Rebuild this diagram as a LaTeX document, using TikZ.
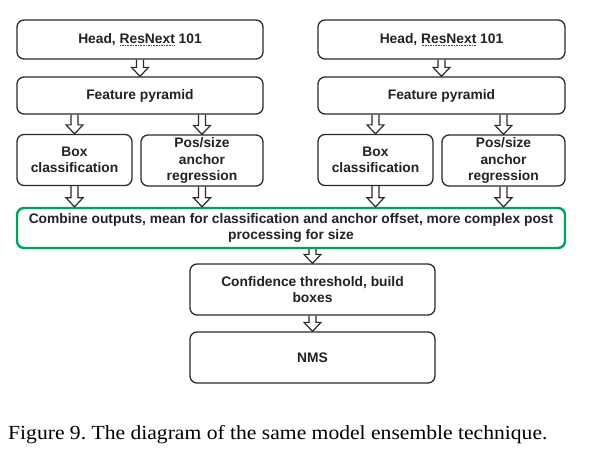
\documentclass[tikz,border=0pt]{standalone}
\usepackage{fontspec}
\setmainfont{Liberation Serif}
\newfontfamily\boxfont{Liberation Sans}
\usetikzlibrary{calc}
\definecolor{boxline}{HTML}{2B2B2B}
\definecolor{boxtext}{HTML}{222222}
\definecolor{combgreen}{HTML}{00A35C}
\newcommand\squigword[1]{\setbox0\hbox{#1}\rlap{\raisebox{-2.6pt}{\color{red!85!black}\hbox to \wd0{\xleaders\hbox to 1.6pt{\hss\vrule width 0.8pt height 0.8pt\hss}\hfill}}}\box0}
\tikzset{
  stagebox/.style={draw=boxline, line width=1.3pt, rounded corners=7pt, fill=white,
    inner sep=0pt, align=center, text=boxtext,
    font=\boxfont\bfseries\fontsize{13.8}{16.5}\selectfont},
  combbox/.style={stagebox, draw=combgreen, line width=2.4pt},
  arrowline/.style={draw=boxline, line width=1.2pt, line join=miter},
}
\newcommand\blockarrow[2]{%
  \draw[arrowline] let \p1=(#1), \p2=(#2) in
    (\x1-3.5pt,\y1) -- (\x1-3.5pt,\y2+9pt) -- (\x1-8.5pt,\y2+9pt) -- (\x1,\y2)
    -- (\x1+8.5pt,\y2+9pt) -- (\x1+3.5pt,\y2+9pt) -- (\x1+3.5pt,\y1);}
\begin{document}
\begin{tikzpicture}[x=1pt,y=-1pt]
\useasboundingbox[fill=white] (0,0) rectangle (597,458);
% left column
\node[stagebox, minimum width=246pt, minimum height=39pt] (headL) at (140,39.5) {Head, \squigword{ResNext}\ 101};
\node[stagebox, minimum width=246pt, minimum height=37pt] (fpL) at (140,95.5) {Feature pyramid};
\node[stagebox, minimum width=115pt, minimum height=51pt] (bcL) at (74.5,160) {Box\\classification};
\node[stagebox, minimum width=122pt, minimum height=51pt] (psL) at (202,160.5) {Pos/size\\anchor\\regression};
% right column
\node[stagebox, minimum width=247pt, minimum height=39pt] (headR) at (441.5,39.5) {Head, \squigword{ResNext}\ 101};
\node[stagebox, minimum width=247pt, minimum height=37pt] (fpR) at (441.5,95.5) {Feature pyramid};
\node[stagebox, minimum width=115pt, minimum height=51pt] (bcR) at (375.5,160) {Box\\classification};
\node[stagebox, minimum width=123pt, minimum height=51pt] (psR) at (503.5,160.5) {Pos/size\\anchor\\regression};
% combine
\node[combbox, minimum width=548pt, minimum height=40pt] (comb) at (291,228) {Combine outputs, mean for classification and anchor offset, more complex post\\processing for size};
\node[stagebox, minimum width=245pt, minimum height=51pt] (conf) at (312.5,289.5) {Confidence threshold, build\\boxes};
\node[stagebox, minimum width=245pt, minimum height=51pt] (nms) at (312.5,357.5) {NMS};
% arrows
\blockarrow{headL.south}{fpL.north}
\blockarrow{headR.south}{fpR.north}
\blockarrow{fpL.south -| bcL.north}{bcL.north}
\blockarrow{fpL.south -| psL.north}{psL.north}
\blockarrow{fpR.south -| bcR.north}{bcR.north}
\blockarrow{fpR.south -| psR.north}{psR.north}
\blockarrow{bcL.south}{bcL.south |- comb.north}
\blockarrow{psL.south}{psL.south |- comb.north}
\blockarrow{bcR.south}{bcR.south |- comb.north}
\blockarrow{psR.south}{psR.south |- comb.north}
\blockarrow{comb.south -| conf.north}{conf.north}
\blockarrow{conf.south}{nms.north}
% caption
\node[anchor=base west, inner sep=0pt, font=\fontsize{20}{24}\selectfont] (cap) at (8,439) {\frenchspacing\scalebox{1.08}[1]{Figure 9. The diagram of the same model ensemble technique.}};
\end{tikzpicture}
\end{document}
